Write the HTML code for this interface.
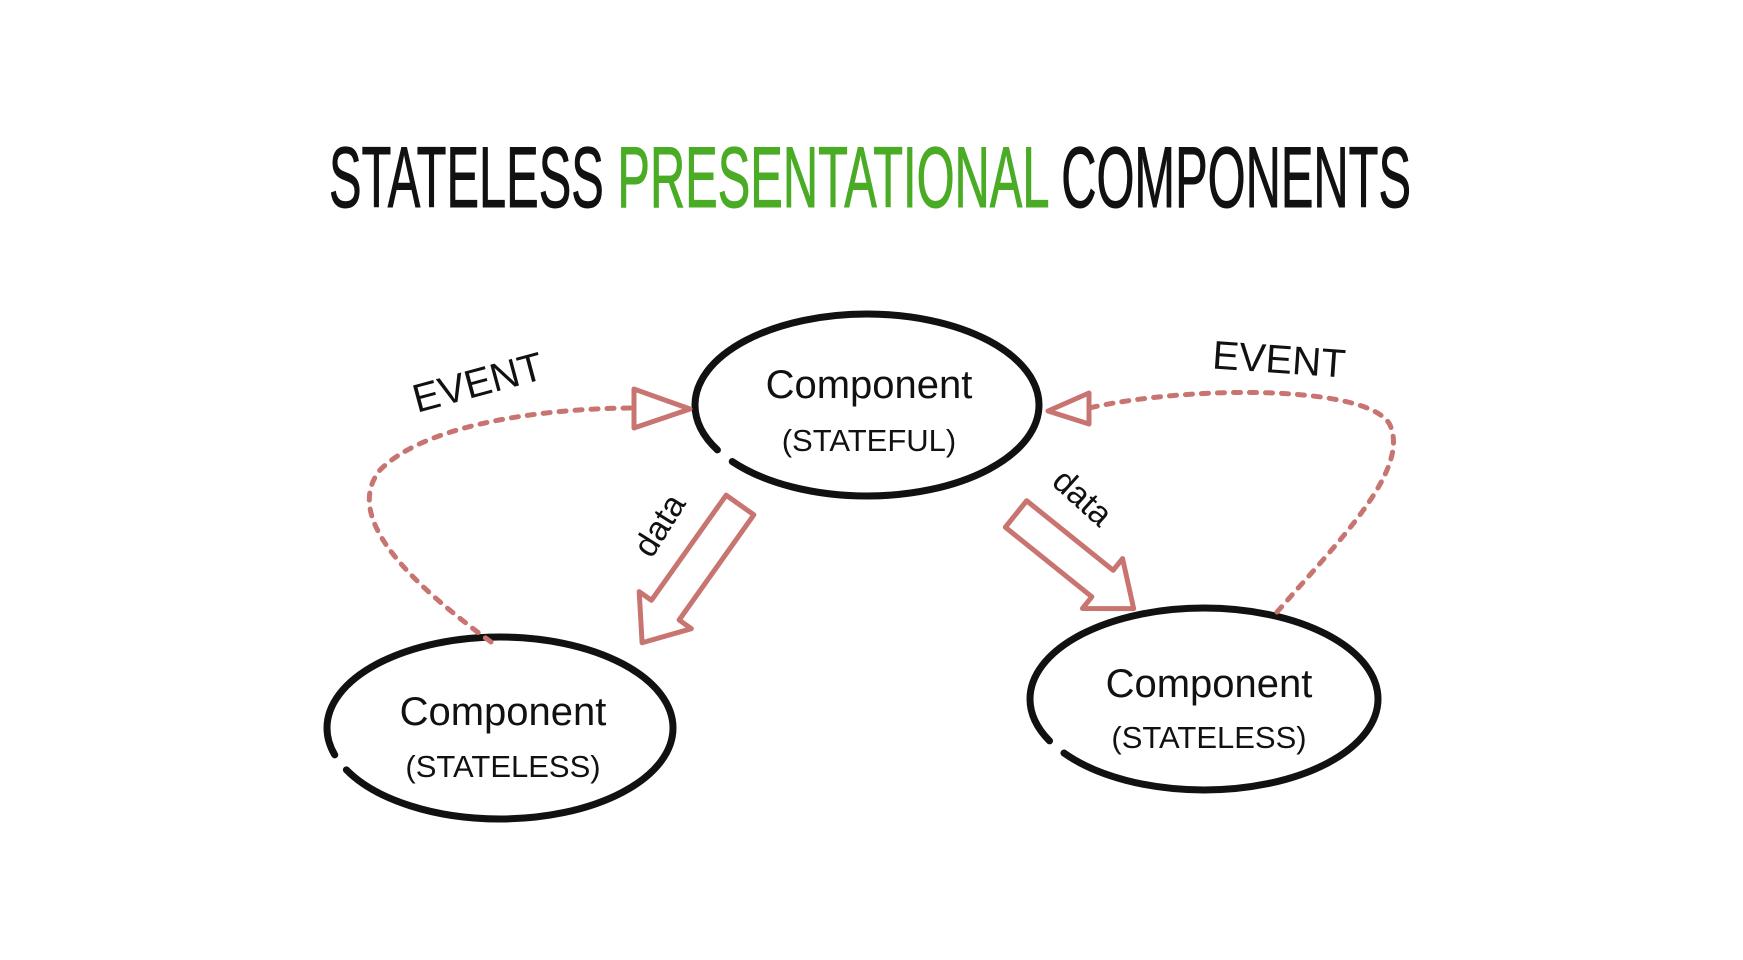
<!DOCTYPE html>
<html><head><meta charset="utf-8"><style>
html,body{margin:0;padding:0;background:#fff;width:1743px;height:960px;overflow:hidden}
svg{display:block}
.h{font-family:"Liberation Sans",sans-serif;fill:#111}
</style></head><body>
<svg width="1743" height="960" viewBox="0 0 1743 960" xmlns="http://www.w3.org/2000/svg">
<text x="329" y="207" font-family="Liberation Sans, sans-serif" font-size="86" textLength="1082" lengthAdjust="spacingAndGlyphs" fill="#111" stroke="#111" stroke-width="1"><tspan>STATELESS </tspan><tspan fill="#4aab25" stroke="#4aab25">PRESENTATIONAL</tspan><tspan> COMPONENTS</tspan></text>

<g fill="none" stroke="#111" stroke-width="7" stroke-linecap="round">
  <ellipse cx="867" cy="405" rx="172" ry="91" pathLength="360" stroke-dasharray="352 8" stroke-dashoffset="-158"/>
  <ellipse cx="500" cy="728" rx="173" ry="91" pathLength="360" stroke-dasharray="352 8" stroke-dashoffset="-168"/>
  <ellipse cx="1204" cy="699" rx="174" ry="91" pathLength="360" stroke-dasharray="352 8" stroke-dashoffset="-160"/>
</g>

<g fill="none" stroke="#c87470" stroke-width="5" stroke-dasharray="7 9" stroke-linecap="round">
  <path d="M491 642 C420 590 340 520 380 470 C430 420 560 408 634 408"/>
  <path d="M1277 612 C1340 540 1410 470 1390 425 C1370 385 1190 385 1089 408"/>
</g>
<g fill="none" stroke="#c87470" stroke-width="5" stroke-linejoin="round">
  <polygon points="634,389 690,409 634,428"/>
  <polygon points="1089,393 1048,411 1089,424"/>
  <polygon transform="translate(740,505) rotate(125.4)" points="0,-17 129,-17 129,-32 169,0 129,32 129,17 0,17"/>
  <polygon transform="translate(1016,514) rotate(38.8)" points="0,-17 111,-17 111,-32 151,0 111,32 111,17 0,17"/>
</g>

<g class="h" text-anchor="middle">
  <text x="869" y="398" font-size="40">Component</text>
  <text x="869" y="451" font-size="31">(STATEFUL)</text>
  <text x="503" y="725" font-size="40">Component</text>
  <text x="503" y="777" font-size="31">(STATELESS)</text>
  <text x="1209" y="697" font-size="40">Component</text>
  <text x="1209" y="748" font-size="31">(STATELESS)</text>
  <text x="478" y="396" font-size="40" transform="rotate(-15 478 383)">EVENT</text>
  <text x="1279" y="373" font-size="40" transform="rotate(4 1279 360)">EVENT</text>
  <text x="659" y="537" font-size="34" transform="rotate(-58 659 525)">data</text>
  <text x="1083" y="509" font-size="34" transform="rotate(42 1083 497)">data</text>
</g>
</svg>
</body></html>
